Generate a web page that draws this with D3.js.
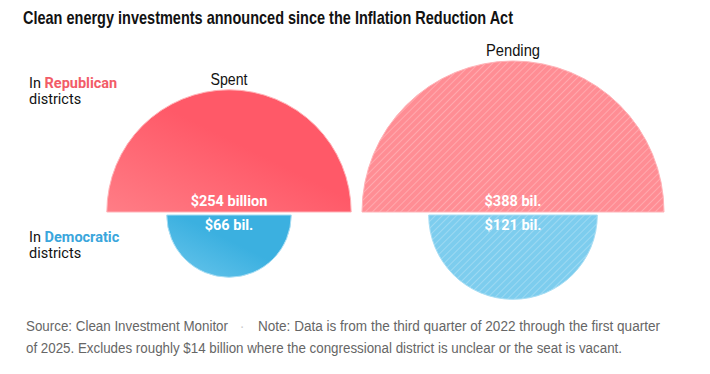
<!DOCTYPE html>
<html>
<head>
<meta charset="utf-8">
<script src="https://cdn.jsdelivr.net/npm/d3@7"></script>
<style>
  body { margin: 0; background: #fff; }
  svg { display: block; }
</style>
</head>
<body>
<div id="chart"></div>
<script>
// values in billions of dollars
const statuses = ["Spent", "Pending"];
const parties = ["Republican", "Democratic"];
const republicanValues = [254, 388];
const democraticValues = [66, 121];
const republicanLabels = ["$254 billion", "$388 bil."];
const democraticLabels = ["$66 bil.", "$121 bil."];

const width = 710;
const height = 374;
const baseY = 212; // flat edge of the top half-circles
const gap = 3;

const svg = d3.select("#chart").append("svg")
  .attr("width", width)
  .attr("height", height);

const defs = svg.append("defs");

function gradient(id, light, dark) {
  const g = defs.append("linearGradient")
    .attr("id", id)
    .attr("x1", "0%").attr("y1", "100%")
    .attr("x2", "100%").attr("y2", "0%");
  g.append("stop").attr("offset", "0%").attr("stop-color", light);
  g.append("stop").attr("offset", "55%").attr("stop-color", dark);
  g.append("stop").attr("offset", "100%").attr("stop-color", dark);
}
gradient("redSpent", "#ff7d86", "#ff5968");
gradient("blueSpent", "#6ac6ec", "#3bb0e0");

function hatch(id, bg) {
  const p = defs.append("pattern")
    .attr("id", id)
    .attr("patternUnits", "userSpaceOnUse")
    .attr("width", 5).attr("height", 5)
    .attr("patternTransform", "rotate(45)");
  p.append("rect").attr("width", 5).attr("height", 5).attr("fill", bg);
  p.append("line")
    .attr("x1", 0).attr("y1", 0).attr("x2", 0).attr("y2", 5)
    .attr("stroke", "#fff").attr("stroke-opacity", 0.45).attr("stroke-width", 1.1);
}
hatch("redPending", "#ff8d94");
hatch("bluePending", "#7dcdee");

const fills = {
  Republican: ["url(#redSpent)", "url(#redPending)"],
  Democratic: ["url(#blueSpent)", "url(#bluePending)"]
};
const edge = { Republican: "#ffb3b8", Democratic: "#a9def4" };

// area proportional to value
const r = d3.scaleSqrt().domain([0, 388]).range([0, 151]);
const x = d3.scaleOrdinal().domain(statuses).range([229, 513]);

const arc = d3.arc().innerRadius(0);

const narrow = "Liberation Sans, Arial, sans-serif";

// title (squeezed to mimic a condensed face)
svg.append("text")
  .attr("x", 23).attr("y", 24)
  .attr("font-family", narrow)
  .attr("font-weight", "bold")
  .attr("font-size", 19)
  .attr("fill", "#121212")
  .attr("textLength", 490)
  .attr("lengthAdjust", "spacingAndGlyphs")
  .text("Clean energy investments announced since the Inflation Reduction Act");

// republican halves (top)
const rep = svg.append("g").attr("transform", `translate(0,${baseY})`);
rep.selectAll("path")
  .data(republicanValues)
  .join("path")
  .attr("transform", (d, i) => `translate(${x(statuses[i])},0)`)
  .attr("d", d => arc({ outerRadius: r(d), startAngle: -Math.PI / 2, endAngle: Math.PI / 2 }))
  .attr("fill", (d, i) => fills.Republican[i])
  .attr("stroke", edge.Republican)
  .attr("stroke-width", 1);

// democratic halves (bottom)
const dem = svg.append("g").attr("transform", `translate(0,${baseY + gap})`);
dem.selectAll("path")
  .data(democraticValues)
  .join("path")
  .attr("transform", (d, i) => `translate(${x(statuses[i])},0)`)
  .attr("d", d => arc({ outerRadius: r(d), startAngle: Math.PI / 2, endAngle: Math.PI * 1.5 }))
  .attr("fill", (d, i) => fills.Democratic[i])
  .attr("stroke", edge.Democratic)
  .attr("stroke-width", 1);

// status headers
svg.selectAll(".status")
  .data(statuses)
  .join("text")
  .attr("class", "status")
  .attr("x", d => x(d))
  .attr("y", (d, i) => baseY - r(republicanValues[i]) - 5)
  .attr("text-anchor", "middle")
  .attr("font-family", narrow)
  .attr("font-size", 16)
  .attr("fill", "#121212")
  .attr("textLength", (d, i) => [37, 54][i])
  .attr("lengthAdjust", "spacingAndGlyphs")
  .text(d => d);

// value labels
const valueFont = "Roboto, sans-serif";
svg.selectAll(".repval")
  .data(republicanLabels)
  .join("text")
  .attr("class", "repval")
  .attr("x", (d, i) => x(statuses[i]))
  .attr("y", baseY - 6)
  .attr("text-anchor", "middle")
  .attr("font-family", valueFont)
  .attr("font-weight", "bold")
  .attr("font-size", 14.5)
  .attr("fill", "#fff")
  .text(d => d);

svg.selectAll(".demval")
  .data(democraticLabels)
  .join("text")
  .attr("class", "demval")
  .attr("x", (d, i) => x(statuses[i]))
  .attr("y", baseY + gap + 15)
  .attr("text-anchor", "middle")
  .attr("font-family", valueFont)
  .attr("font-weight", "bold")
  .attr("font-size", 14.5)
  .attr("fill", "#fff")
  .text(d => d);

// side labels
const partyColor = { Republican: "#f25c68", Democratic: "#3aa6dc" };
const sideY = { Republican: 88, Democratic: 242 };
parties.forEach(p => {
  const t = svg.append("text")
    .attr("x", 29).attr("y", sideY[p])
    .attr("font-family", "Roboto, sans-serif")
    .attr("font-size", 14.5)
    .attr("fill", "#121212");
  t.append("tspan").text("In ");
  t.append("tspan").attr("font-weight", "bold").attr("fill", partyColor[p]).text(p);
  svg.append("text")
    .attr("x", 29).attr("y", sideY[p] + 16)
    .attr("font-family", "Roboto, sans-serif")
    .attr("font-size", 14.5)
    .attr("fill", "#121212")
    .text("districts");
});

// source note
const noteStyle = t => t
  .attr("font-family", narrow)
  .attr("font-size", 14)
  .attr("fill", "#666")
  .attr("lengthAdjust", "spacingAndGlyphs");

svg.append("text").call(noteStyle)
  .attr("x", 26).attr("y", 331)
  .attr("textLength", 202)
  .text("Source: Clean Investment Monitor");
svg.append("text")
  .attr("x", 242).attr("y", 331)
  .attr("text-anchor", "middle")
  .attr("font-family", narrow)
  .attr("font-size", 14)
  .attr("fill", "#ccc")
  .text("·");
svg.append("text").call(noteStyle)
  .attr("x", 258).attr("y", 331)
  .attr("textLength", 402)
  .text("Note: Data is from the third quarter of 2022 through the first quarter");
svg.append("text").call(noteStyle)
  .attr("x", 26).attr("y", 353)
  .attr("textLength", 596)
  .text("of 2025. Excludes roughly $14 billion where the congressional district is unclear or the seat is vacant.");
</script>
</body>
</html>
